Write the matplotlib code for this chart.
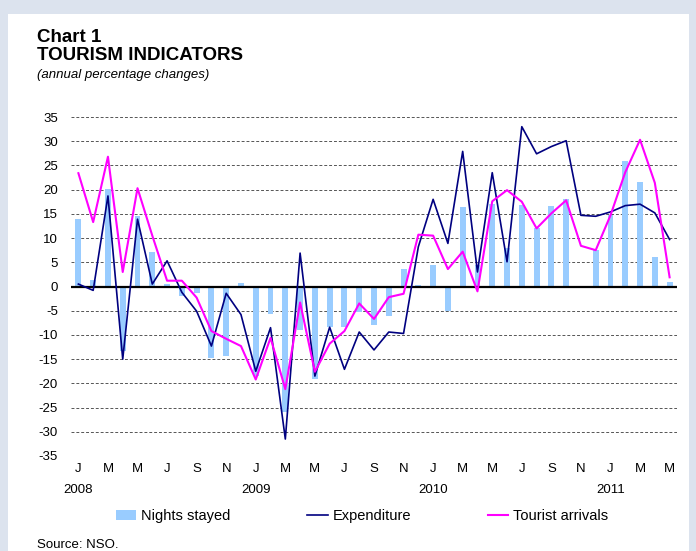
import numpy as np
import matplotlib
matplotlib.use("Agg")
import matplotlib.pyplot as plt
from matplotlib.patches import Rectangle, Patch
from matplotlib.lines import Line2D

plt.rcParams['font.family'] = ['Liberation Sans', 'DejaVu Sans']
plt.rcParams['axes.unicode_minus'] = False

# monthly data, Jan 2008 - May 2011
month_letters = ['J', 'F', 'M', 'A', 'M', 'J', 'J', 'A', 'S', 'O', 'N', 'D']
years = ['2008', '2009', '2010', '2011']

nights = [14.0, 1.4, 20.2, -13.3, 14.6, 7.2, 0.6, -2.0, -1.4, -14.8, -14.4, 0.7,
          -18.5, -5.6, -26.0, -8.9, -19.0, -8.4, -8.4, -5.2, -8.0, -6.1, 3.6, 0.4,
          4.5, -5.0, 16.4, 4.5, 17.0, 8.0, 16.9, 12.0, 16.6, 18.0, -0.3, 7.5,
          14.7, 25.9, 21.6, 6.0, 1.0]

expenditure = [0.5, -0.8, 18.7, -15.0, 13.9, 0.5, 5.3, -1.2, -5.1, -12.3, -1.4, -5.8,
               -17.5, -8.5, -31.5, 6.9, -18.5, -8.4, -17.1, -9.4, -13.1, -9.4, -9.7, 8.2,
               18.0, 8.9, 27.9, 3.0, 23.5, 5.1, 33.0, 27.4, 28.9, 30.1, 14.7, 14.5,
               15.4, 16.7, 17.0, 15.2, 9.7]

arrivals = [23.4, 13.3, 26.8, 3.0, 20.3, 10.5, 1.2, 1.2, -2.3, -9.2, -10.8, -12.3,
            -19.2, -10.6, -21.2, -3.3, -17.6, -11.8, -9.2, -3.5, -6.7, -2.2, -1.5, 10.7,
            10.5, 3.6, 7.2, -1.0, 17.6, 19.9, 17.5, 12.0, 15.1, 17.8, 8.4, 7.5,
            14.7, 23.6, 30.3, 21.4, 1.9]

n = len(nights)
x = np.arange(n)
labels = [month_letters[i % 12] for i in range(n)]

fig = plt.figure(figsize=(6.96, 5.51), dpi=100)
fig.patch.set_facecolor('#dce3ee')
fig.patches.append(Rectangle((8 / 696, 0), (689 - 8) / 696, 1 - 14 / 551,
                             transform=fig.transFigure, facecolor='white',
                             edgecolor='none', zorder=-10))

fig.text(37 / 696, 1 - 37 / 551, 'Chart 1', fontsize=13.5, fontweight='bold', va='center')
fig.text(37 / 696, 1 - 55 / 551, 'TOURISM INDICATORS', fontsize=13.5, fontweight='bold', va='center')
fig.text(37 / 696, 1 - 75 / 551, '(annual percentage changes)', fontsize=9.5, style='italic', va='center')
fig.text(37 / 696, 1 - 545 / 551, 'Source: NSO.', fontsize=9.5, va='center')

ax = fig.add_axes([71 / 696, 1 - 456 / 551, (677 - 71) / 696, (456 - 117) / 551])
ax.set_facecolor('none')

for v in range(-35, 40, 5):
    if v != 0:
        ax.axhline(v, color='#555555', lw=0.7, dashes=(3, 2), zorder=1)

ax.bar(x, nights, width=0.4, color='#99ccff', zorder=2)
ax.axhline(0, color='black', lw=1.6, zorder=3)
ax.plot(x, expenditure, color='#000080', lw=1.2, zorder=4)
ax.plot(x, arrivals, color='#ff00ff', lw=1.5, zorder=5)

ax.set_xlim(-0.5, n - 0.5)
ax.set_ylim(-35, 35)
ax.set_yticks(range(-35, 40, 5))
ax.set_xticks(x[::2])
ax.set_xticklabels(labels[::2])
ax.tick_params(axis='both', length=0, labelsize=9.5)
ax.tick_params(axis='y', pad=9.5)
ax.tick_params(axis='x', pad=5)
for s in ax.spines.values():
    s.set_visible(False)

# year labels under each January
for i, yr in enumerate(years):
    ax.text(i * 12, -0.1, yr, transform=ax.get_xaxis_transform(),
            ha='center', va='center', fontsize=9.5)

handles = [Patch(facecolor='#99ccff', edgecolor='none'),
           Line2D([], [], color='#000080', lw=1.2),
           Line2D([], [], color='#ff00ff', lw=1.5)]
fig.legend(handles, ['Nights stayed', 'Expenditure', 'Tourist arrivals'],
           loc='center left', bbox_to_anchor=(116 / 696, 1 - 516 / 551),
           ncol=3, frameon=False, fontsize=10.5, borderpad=0, borderaxespad=0,
           handlelength=1.4, handleheight=0.7, handletextpad=0.3,
           columnspacing=5.3)

fig.savefig('out.png', dpi=100, facecolor=fig.get_facecolor())
